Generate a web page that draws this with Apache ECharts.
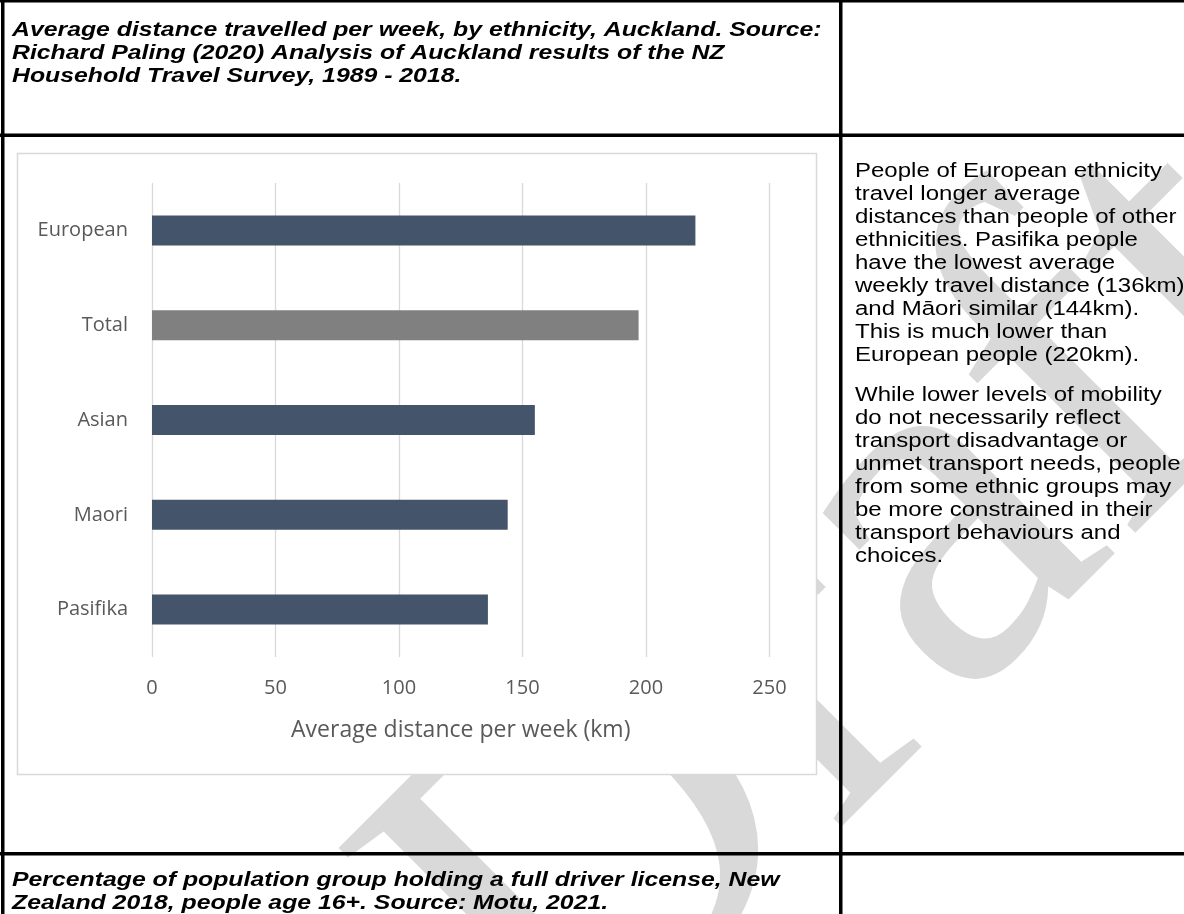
<!DOCTYPE html>
<html>
<head>
<meta charset="utf-8">
<script src="https://cdn.jsdelivr.net/npm/echarts@6/dist/echarts.min.js"></script>
<style>
  html, body { margin: 0; padding: 0; background: #fff; }
  #main { width: 1184px; height: 914px; }
</style>
</head>
<body>
<div id="main"></div>
<script>
// chart data
var categories = ['European', 'Total', 'Asian', 'Maori', 'Pasifika'];
var distances = [220, 197, 155, 144, 136];
var xTicks = [0, 50, 100, 150, 200, 250];

var titleTop = 'Average distance travelled per week, by ethnicity, Auckland. Source:\nRichard Paling (2020) Analysis of Auckland results of the NZ\nHousehold Travel Survey, 1989 - 2018.';
var titleBottom = 'Percentage of population group holding a full driver license, New\nZealand 2018, people age 16+. Source: Motu, 2021.';
var para1 = 'People of European ethnicity\ntravel longer average\ndistances than people of other\nethnicities. Pasifika people\nhave the lowest average\nweekly travel distance (136km)\nand Māori similar (144km).\nThis is much lower than\nEuropean people (220km).';
var para2 = 'While lower levels of mobility\ndo not necessarily reflect\ntransport disadvantage or\nunmet transport needs, people\nfrom some ethnic groups may\nbe more constrained in their\ntransport behaviours and\nchoices.';

var myecharts = echarts.init(document.getElementById('main'), null, {renderer: 'canvas'});

var barData = distances.map(function (v, i) {
    return {
        value: v,
        itemStyle: {color: categories[i] === 'Total' ? '#808080' : '#44546a'}
    };
});

function rule(x, y, w, h) {
    return {type: 'rect', z: 50, shape: {x: x, y: y, width: w, height: h}, style: {fill: '#000'}};
}

// the document text is a little stretched sideways
function docText(txt, x, y, sx, bold) {
    return {
        type: 'text', z: 60, x: x, y: y, scaleX: sx,
        style: {
            text: txt, fill: '#000', fontFamily: 'Liberation Sans', fontSize: 20,
            fontWeight: bold ? 'bold' : 'normal', fontStyle: bold ? 'italic' : 'normal',
            lineHeight: 23
        }
    };
}

var option = {
    backgroundColor: '#fff',
    animation: false,
    graphic: [
        // watermark
        {
            type: 'text', z: -100, x: 860, y: 615, rotation: Math.PI / 4,
            style: {
                text: 'Draft', fill: '#d9d9d9',
                fontFamily: 'Liberation Serif', fontSize: 520,
                align: 'center', verticalAlign: 'middle'
            }
        },
        // chart area
        {
            type: 'rect', z: -50,
            shape: {x: 17.5, y: 153.5, width: 799, height: 621},
            style: {fill: '#fff', stroke: '#d9d9d9', lineWidth: 1.5}
        },
        // table borders
        rule(0, 0, 1184, 2.5),
        rule(1, 0, 3.5, 914),
        rule(0, 133.5, 1184, 3.5),
        rule(839, 0, 3.5, 914),
        rule(0, 852, 1184, 3.5),
        // cell texts
        docText(titleTop, 12, 19, 1.24, true),
        docText(titleBottom, 12, 869, 1.24, true),
        docText(para1, 855, 160, 1.2, false),
        docText(para2, 855, 384, 1.2, false)
    ],
    grid: {
        left: 152,
        right: 414.5,
        top: 183,
        bottom: 257,
        containLabel: false
    },
    xAxis: {
        type: 'value',
        min: xTicks[0],
        max: xTicks[xTicks.length - 1],
        interval: 50,
        name: 'Average distance per week (km)',
        nameLocation: 'middle',
        nameGap: 62,
        nameTextStyle: {color: '#595959', fontFamily: 'Open Sans', fontSize: 23},
        axisLine: {show: false},
        axisTick: {show: false},
        axisLabel: {color: '#595959', fontFamily: 'Open Sans', fontSize: 20, margin: 21},
        splitLine: {lineStyle: {color: '#d9d9d9', width: 1.3}}
    },
    yAxis: {
        type: 'category',
        inverse: true,
        data: categories,
        axisLine: {show: false},
        axisTick: {show: false},
        axisLabel: {color: '#595959', fontFamily: 'Open Sans', fontSize: 20, margin: 24}
    },
    series: [
        {
            type: 'bar',
            barWidth: 30,
            data: barData
        }
    ]
};
myecharts.setOption(option);
</script>
</body>
</html>
